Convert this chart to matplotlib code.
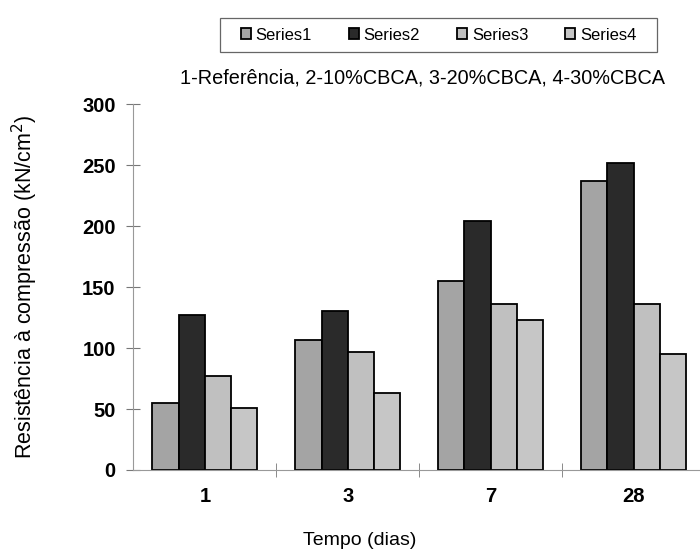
import numpy as np
import matplotlib.pyplot as plt
from matplotlib.patches import Rectangle

plt.rcParams["font.family"] = ["Liberation Sans", "DejaVu Sans"]

dias = ["1", "3", "7", "28"]
series_names = ["Series1", "Series2", "Series3", "Series4"]
s1 = [55, 107, 155, 237]
s2 = [127, 130, 204, 252]
s3 = [77, 97, 136, 136]
s4 = [51, 63, 123, 95]
cores = ["#a4a4a4", "#2a2a2a", "#c0c0c0", "#c6c6c6"]

fig = plt.figure(figsize=(7, 5.5), dpi=100)
ax = fig.add_axes([0.1905, 0.1455, 0.817, 0.665])

x = np.arange(len(dias))
w = 0.184
for i, (vals, nome) in enumerate(zip([s1, s2, s3, s4], series_names)):
    ax.bar(x + (i - 1.5) * w, vals, w, color=cores[i], edgecolor="black",
           linewidth=1.3, label=nome)

ax.set_xlim(-0.5, 3.5)
ax.set_ylim(0, 300)
ax.set_yticks([0, 50, 100, 150, 200, 250, 300])
ax.set_xticks(x)
ax.set_xticklabels(dias)
ax.set_xticks([0.5, 1.5, 2.5], minor=True)
ax.tick_params(axis="x", which="major", length=0, pad=12, labelsize=14.5)
ax.tick_params(axis="x", which="minor", direction="inout", length=9.4, color="#777777")
ax.tick_params(axis="y", direction="inout", length=9.4, color="#777777", labelsize=14.5, pad=8)
for lab in ax.get_xticklabels() + ax.get_yticklabels():
    lab.set_fontweight("bold")

for side in ["top", "right"]:
    ax.spines[side].set_visible(False)
ax.spines["left"].set_color("#999999")
ax.spines["bottom"].set_color("#999999")

ax.set_ylabel("Resistência à compressão (kN/cm$^2$)", fontsize=15.5)
ax.yaxis.set_label_coords(-0.189, 0.5)
ax.yaxis.label.set_va("center")
ax.set_xlabel("Tempo (dias)", fontsize=14)
ax.xaxis.set_label_coords(0.395, -0.194)
ax.xaxis.label.set_va("center")

fig.text(422 / 700, 1 - 78 / 550, "1-Referência, 2-10%CBCA, 3-20%CBCA, 4-30%CBCA",
         ha="center", va="center", fontsize=14.3)

leg = fig.legend(loc="center", bbox_to_anchor=(438.5 / 700, 1 - 35 / 550), ncol=4,
                 fontsize=12, frameon=False,
                 handlelength=0.6, handleheight=0.6, columnspacing=2.2,
                 handletextpad=0.3, borderpad=0.45, borderaxespad=0)

# legend frame
fig.patches.append(Rectangle((220 / 700, 1 - 52 / 550), 437 / 700, 34 / 550,
                             transform=fig.transFigure, fill=False,
                             edgecolor="#666666", linewidth=0.9))

fig.savefig("out.png", dpi=100)
